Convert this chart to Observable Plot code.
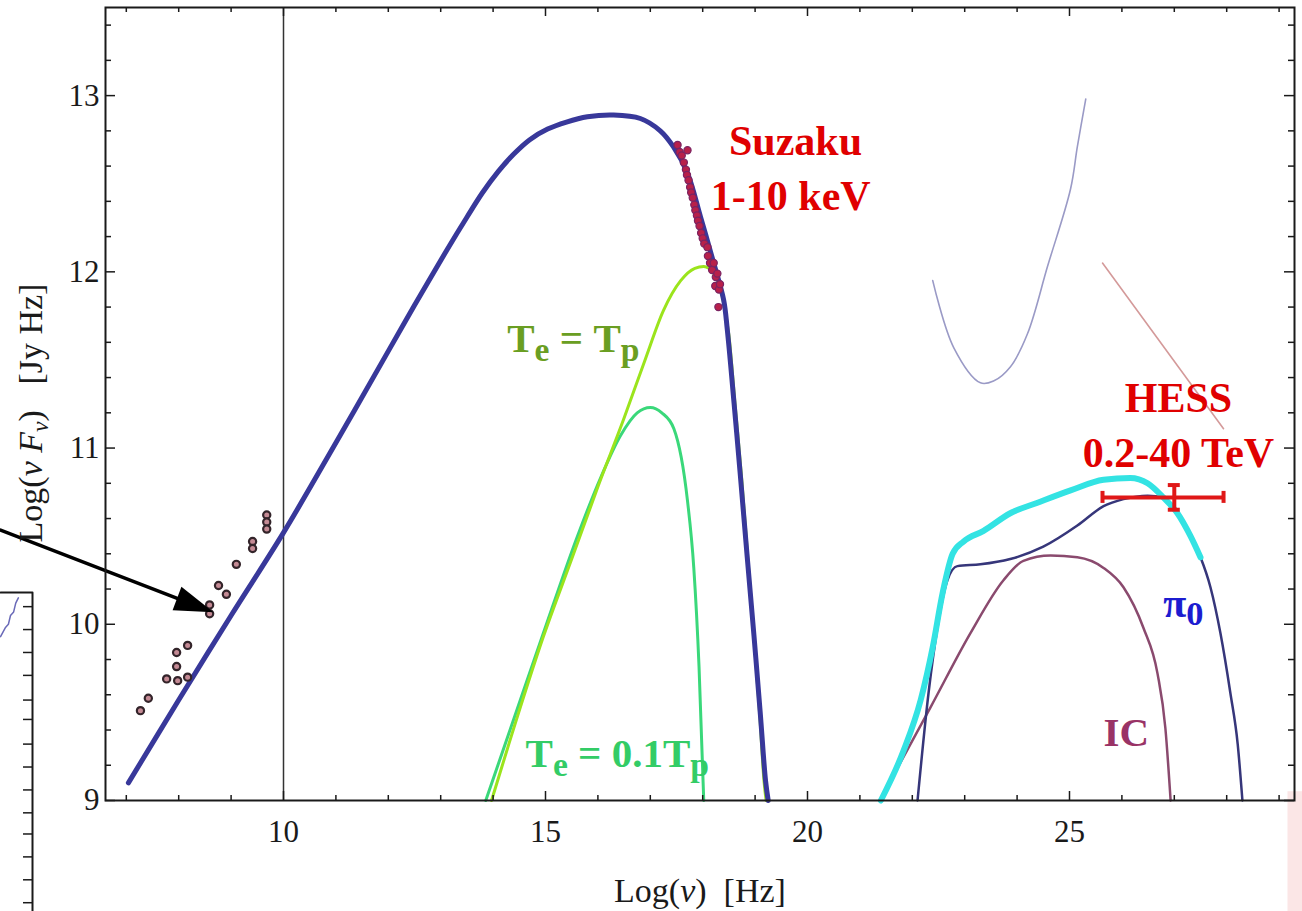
<!DOCTYPE html>
<html>
<head>
<meta charset="utf-8">
<script src="https://cdn.jsdelivr.net/npm/d3@7"></script>
<script src="https://cdn.jsdelivr.net/npm/@observablehq/plot@0.6"></script>
<style>
html, body { margin: 0; padding: 0; background: #fff; }
#chart svg { display: block; }
</style>
</head>
<body>
<div id="chart"></div>
<script>
// ---------------- data (log10 values) ----------------
const xMajorTicks = [10, 15, 20, 25];
const xMinorTicks = [7, 8, 9, 11, 12, 13, 14, 16, 17, 18, 19, 21, 22, 23, 24, 26, 27, 28, 29];
const yMajorTicks = [9, 10, 11, 12, 13];
const yMinorTicks = [9.2, 9.4, 9.6, 9.8, 10.2, 10.4, 10.6, 10.8, 11.2, 11.4, 11.6, 11.8, 12.2, 12.4, 12.6, 12.8, 13.2, 13.4];

// synchrotron model (thick navy)
const synchrotron = [[7.04, 9.10], [8.0, 9.57], [9.0, 10.05], [10.0, 10.52], [11.0, 11.03], [12.0, 11.55], [12.5, 11.81], [13.13, 12.13], [13.5, 12.31], [13.8, 12.45], [14.1, 12.57], [14.4, 12.67], [14.7, 12.75], [15.04, 12.81], [15.4, 12.85], [15.8, 12.88], [16.30, 12.89], [16.81, 12.87], [17.19, 12.80], [17.44, 12.71], [17.71, 12.56], [17.96, 12.31], [18.21, 12.05], [18.40, 11.84], [18.47, 11.67], [18.60, 11.25], [18.72, 10.84], [18.85, 10.38], [18.98, 9.93], [19.10, 9.49], [19.20, 9.11], [19.25, 9.0]];
// thermal models
const thermalTeTp = [[13.97, 9.0], [14.30, 9.32], [14.96, 9.93], [15.50, 10.37], [16.00, 10.78], [16.50, 11.17], [16.90, 11.50], [17.25, 11.78], [17.58, 11.95], [17.85, 12.02], [18.02, 12.03], [18.21, 11.99], [18.36, 11.88], [18.50, 11.64], [18.62, 11.24], [18.74, 10.84], [18.86, 10.38], [18.98, 9.92], [19.09, 9.48], [19.17, 9.11], [19.21, 9.0]];
const thermalTe01Tp = [[13.86, 9.0], [14.30, 9.38], [14.96, 9.95], [15.61, 10.50], [16.05, 10.83], [16.43, 11.07], [16.75, 11.20], [17.00, 11.23], [17.22, 11.20], [17.45, 11.11], [17.71, 10.70], [17.83, 10.32], [17.93, 9.76], [18.02, 9.0]];
// gamma-ray models
const totalGamma = [[21.40, 9.0], [21.83, 9.28], [22.16, 9.57], [22.39, 9.87], [22.58, 10.18], [22.77, 10.40], [22.98, 10.47], [23.36, 10.53], [23.87, 10.63], [24.39, 10.69], [25.02, 10.76], [25.65, 10.82], [26.16, 10.83], [26.49, 10.80], [26.79, 10.72], [27.06, 10.63], [27.31, 10.50], [27.50, 10.38]];
const pionDecay = [[22.10, 9.0], [22.31, 9.61], [22.48, 9.98], [22.67, 10.25], [22.86, 10.33], [23.30, 10.34], [23.87, 10.37], [24.50, 10.44], [25.15, 10.56], [25.65, 10.67], [26.03, 10.71], [26.49, 10.73], [26.79, 10.72], [27.06, 10.63], [27.31, 10.50], [27.50, 10.38], [27.69, 10.21], [27.88, 9.95], [28.07, 9.61], [28.21, 9.32], [28.30, 9.0]];
const inverseCompton = [[21.38, 9.0], [22.35, 9.53], [23.11, 9.95], [23.74, 10.25], [24.12, 10.36], [24.64, 10.39], [25.15, 10.38], [25.65, 10.32], [26.03, 10.21], [26.41, 9.98], [26.68, 9.72], [26.83, 9.41], [26.93, 9.0]];
// faint upper curves
const faintBlue = [[22.39, 11.95], [22.79, 11.57], [23.30, 11.37], [23.55, 11.38], [23.87, 11.46], [24.20, 11.65], [24.58, 12.03], [25.02, 12.47], [25.15, 12.71], [25.31, 12.98]];
const faintRed = [[25.63, 12.05], [27.94, 11.11]];
// observations
const radioPoints = [[7.27, 9.51], [7.42, 9.58], [7.77, 9.69], [7.96, 9.84], [7.96, 9.76], [7.98, 9.68], [8.17, 9.88], [8.17, 9.70], [8.59, 10.11], [8.59, 10.06], [8.76, 10.22], [8.91, 10.17], [9.10, 10.34], [9.41, 10.47], [9.41, 10.43], [9.68, 10.62], [9.68, 10.58], [9.68, 10.54]];
const suzakuPoints = [[17.52, 12.72], [17.56, 12.68], [17.60, 12.66], [17.71, 12.69], [17.64, 12.62], [17.68, 12.58], [17.70, 12.55], [17.73, 12.52], [17.76, 12.48], [17.78, 12.45], [17.81, 12.42], [17.84, 12.38], [17.86, 12.35], [17.89, 12.32], [17.91, 12.29], [17.94, 12.26], [17.97, 12.22], [18.00, 12.19], [18.03, 12.16], [18.09, 12.14], [18.10, 12.09], [18.14, 12.05], [18.18, 12.01], [18.21, 12.05], [18.25, 11.97], [18.28, 11.99], [18.24, 11.92], [18.31, 11.90], [18.33, 11.93], [18.30, 11.80]];
const hessPoint = [{x: 27.0, xLo: 25.63, xHi: 27.94, y: 10.72, yLo: 10.65, yHi: 10.79}];

// annotations (data coordinates)
const redLabels = [
  {text: "Suzaku", x: 19.77, y: 12.665},
  {text: "1-10 keV", x: 19.68, y: 12.35},
  {text: "HESS", x: 27.08, y: 11.205},
  {text: "0.2-40 TeV", x: 27.08, y: 10.89}
];
const labelTeTp = "Te = Tp";
const labelTe01 = "Te = 0.1Tp";
const labelPi = "π0";
const labelIC = "IC";
const xTitle = "Log(ν)  [Hz]";
const yTitle = "Log(ν Fν)  [Jy Hz]";
const arrowLine = [[4.60, 10.534], [7.96, 10.148]];
const arrowTip = [[8.664, 10.068]];
// fragment of the neighbouring panel, cut at the left edge
const sidePanelFrame = [[4.60, 10.18], [5.21, 10.18], [5.21, 8.36]];
const sidePanelTicks = [10.10, 9.97, 9.84, 9.71, 9.57, 9.46, 9.32, 9.19, 9.06, 8.93, 8.81, 8.68, 8.55, 8.42];
const sidePanelCurve = [[4.60, 9.93], [4.69, 9.98], [4.75, 10.00], [4.79, 10.05], [4.85, 10.07], [4.89, 10.12], [4.94, 10.15]];
const edgeTint = [{x1: 29.17, x2: 29.46, y1: 8.36, y2: 9.05}];

// ---------------- layout ----------------
const W = 1302, H = 911;
const M = {top: 7, right: 8, bottom: 111, left: 105};
const xDomain = [6.603, 29.294];
const yDomain = [9, 13.5];
const kx = (W - M.left - M.right) / (xDomain[1] - xDomain[0]);
const ky = (H - M.top - M.bottom) / (yDomain[1] - yDomain[0]);
const serif = "'Liberation Serif', 'Times New Roman', serif";
const ink = "#1a1a1a";

const X = (d) => d[0], Y = (d) => d[1];
const curveLine = (data, o) => Plot.line(data, {x: X, y: Y, curve: "monotone-x", strokeLinecap: "round", strokeLinejoin: "round", ...o});

const arrowHead = {
  draw(ctx) { ctx.moveTo(0, 0); ctx.lineTo(-39, -12.5); ctx.lineTo(-39, 12.5); ctx.closePath(); }
};

const chart = Plot.plot({
  width: W, height: H,
  marginTop: M.top, marginRight: M.right, marginBottom: M.bottom, marginLeft: M.left,
  x: {domain: xDomain},
  y: {domain: yDomain},
  axis: null,
  style: {fontFamily: serif, background: "#fff", color: ink},
  marks: [
    // faint tint at the lower right edge of the scan
    Plot.rect(edgeTint, {x1: "x1", x2: "x2", y1: "y1", y2: "y2", fill: "#fbe3e3", fillOpacity: 0.9}),

    // neighbouring panel fragment
    Plot.line(sidePanelFrame, {x: X, y: Y, stroke: ink, strokeWidth: 2}),
    Plot.ruleY(sidePanelTicks, {y: (d) => d, x1: 5.21 - 9 / kx, x2: 5.21, stroke: ink, strokeWidth: 1.5}),
    Plot.line(sidePanelCurve, {x: X, y: Y, stroke: "#6a6ab8", strokeWidth: 1.5}),

    // reference line at 10
    Plot.ruleX([10], {stroke: "#333", strokeWidth: 1.5}),

    // faint curves
    Plot.line(faintBlue, {x: X, y: Y, stroke: "#9a9ac6", strokeWidth: 1.6, curve: "catmull-rom"}),
    Plot.line(faintRed, {x: X, y: Y, stroke: "#d49a9a", strokeWidth: 1.6}),

    // thermal
    curveLine(thermalTe01Tp, {stroke: "#3ad87a", strokeWidth: 3}),
    curveLine(thermalTeTp, {stroke: "#9be41c", strokeWidth: 3}),

    // gamma
    curveLine(inverseCompton, {stroke: "#8a4a6e", strokeWidth: 2.5}),
    curveLine(pionDecay, {stroke: "#36367a", strokeWidth: 2.5}),
    curveLine(totalGamma, {stroke: "#33e3e3", strokeWidth: 6}),

    // synchrotron
    curveLine(synchrotron, {stroke: "#38389a", strokeWidth: 5, curve: "catmull-rom"}),

    // observations
    Plot.dot(suzakuPoints, {x: X, y: Y, r: 3.6, fill: "#b8204a", stroke: "#7a2462", strokeWidth: 1.2}),
    Plot.dot(radioPoints, {x: X, y: Y, r: 3.6, fill: "#c48a94", stroke: "#33242a", strokeWidth: 2.2}),

    // HESS error bar
    Plot.ruleY(hessPoint, {y: "y", x1: "xLo", x2: "xHi", stroke: "#e01818", strokeWidth: 4}),
    Plot.ruleX(hessPoint, {x: "x", y1: "yLo", y2: "yHi", stroke: "#e01818", strokeWidth: 4}),
    Plot.ruleX(hessPoint, {x: "xLo", y1: (d) => d.y - 6 / ky, y2: (d) => d.y + 6 / ky, stroke: "#e01818", strokeWidth: 4}),
    Plot.ruleX(hessPoint, {x: "xHi", y1: (d) => d.y - 6 / ky, y2: (d) => d.y + 6 / ky, stroke: "#e01818", strokeWidth: 4}),
    Plot.ruleY(hessPoint, {y: "yLo", x1: (d) => d.x - 6 / kx, x2: (d) => d.x + 6 / kx, stroke: "#e01818", strokeWidth: 4}),
    Plot.ruleY(hessPoint, {y: "yHi", x1: (d) => d.x - 6 / kx, x2: (d) => d.x + 6 / kx, stroke: "#e01818", strokeWidth: 4}),

    // arrow
    Plot.line(arrowLine, {x: X, y: Y, stroke: "#000", strokeWidth: 3.5}),
    Plot.dot(arrowTip, {x: X, y: Y, symbol: arrowHead, rotate: 20.7, fill: "#000", stroke: "none", r: 10}),

    // frame and ticks (inward)
    Plot.frame({stroke: ink, strokeWidth: 2}),
    Plot.ruleX(xMinorTicks, {x: (d) => d, y1: yDomain[0], y2: yDomain[0] + 5 / ky, stroke: ink, strokeWidth: 1.5}),
    Plot.ruleX(xMajorTicks, {x: (d) => d, y1: yDomain[0], y2: yDomain[0] + 9 / ky, stroke: ink, strokeWidth: 1.5}),
    Plot.ruleX(xMinorTicks, {x: (d) => d, y1: yDomain[1], y2: yDomain[1] - 5 / ky, stroke: ink, strokeWidth: 1.5}),
    Plot.ruleX(xMajorTicks, {x: (d) => d, y1: yDomain[1], y2: yDomain[1] - 9 / ky, stroke: ink, strokeWidth: 1.5}),
    Plot.ruleY(yMinorTicks, {y: (d) => d, x1: xDomain[0], x2: xDomain[0] + 6 / kx, stroke: ink, strokeWidth: 1.5}),
    Plot.ruleY(yMajorTicks, {y: (d) => d, x1: xDomain[0], x2: xDomain[0] + 10 / kx, stroke: ink, strokeWidth: 1.5}),
    Plot.ruleY(yMinorTicks, {y: (d) => d, x1: xDomain[1], x2: xDomain[1] - 6 / kx, stroke: ink, strokeWidth: 1.5}),
    Plot.ruleY(yMajorTicks, {y: (d) => d, x1: xDomain[1], x2: xDomain[1] - 10 / kx, stroke: ink, strokeWidth: 1.5}),

    // tick labels
    Plot.text(xMajorTicks, {x: (d) => d, y: yDomain[0], text: (d) => String(d), dy: 19, lineAnchor: "top", fontSize: 31, fill: ink}),
    Plot.text(yMajorTicks, {x: xDomain[0], y: (d) => d, text: (d) => String(d), dx: -6, textAnchor: "end", fontSize: 31, fill: ink}),

    // axis titles
    Plot.text([xTitle], {frameAnchor: "bottom", text: (d) => d, textAnchor: "middle", dy: 101, lineAnchor: "bottom", fontSize: 34, fill: ink}),
    Plot.text([yTitle], {frameAnchor: "left", text: (d) => d, textAnchor: "middle", rotate: -90, dx: -64, dy: 9, lineAnchor: "bottom", fontSize: 34, fill: ink}),

    // annotations
    Plot.text(redLabels, {x: "x", y: "y", text: "text", lineAnchor: "bottom", fontSize: 42, fontWeight: "bold", fill: "#e00000"}),
    Plot.text([labelTeTp], {x: 14.27, y: 11.545, text: (d) => d, textAnchor: "start", lineAnchor: "bottom", fontSize: 41, fontWeight: "bold", fill: "#6a9e22"}),
    Plot.text([labelTe01], {x: 14.62, y: 9.19, text: (d) => d, textAnchor: "start", lineAnchor: "bottom", fontSize: 41, fontWeight: "bold", fill: "#33cc66"}),
    Plot.text([labelPi], {x: 26.79, y: 10.04, text: (d) => d, textAnchor: "start", lineAnchor: "bottom", fontSize: 42, fontWeight: "bold", fill: "#1c1cd0"}),
    Plot.text([labelIC], {x: 25.65, y: 9.31, text: (d) => d, textAnchor: "start", lineAnchor: "bottom", fontSize: 41, fontWeight: "bold", fill: "#993366"})
  ]
});

document.getElementById("chart").append(chart);

// rich text: italics and subscripts as tspans
const richSpecs = [
  {key: xTitle, fs: 34, sub: 0.7, shift: 6, segs: [["Log("], ["ν", "i"], [")\u00a0\u00a0[Hz]"]]},
  {key: yTitle, fs: 34, sub: 0.7, shift: 6, segs: [["Log("], ["ν", "i"], ["\u00a0"], ["F", "i"], ["ν", "is"], [")\u00a0\u00a0\u00a0[Jy Hz]"]]},
  {key: labelTeTp, fs: 41, sub: 0.82, shift: 9, segs: [["T"], ["e", "s"], ["\u00a0=\u00a0T"], ["p", "s"]]},
  {key: labelTe01, fs: 41, sub: 0.82, shift: 9, segs: [["T"], ["e", "s"], ["\u00a0=\u00a00.1T"], ["p", "s"]]},
  {key: labelPi, fs: 42, sub: 0.82, shift: 8, segs: [["π"], ["0", "s"]]}
];
const NS = "http://www.w3.org/2000/svg";
chart.querySelectorAll("text").forEach((el) => {
  const spec = richSpecs.find((s) => s.key === el.textContent);
  if (!spec) return;
  el.textContent = "";
  let shifted = false;
  for (const [t, f = ""] of spec.segs) {
    const ts = document.createElementNS(NS, "tspan");
    ts.textContent = t;
    const isSub = f.includes("s");
    if (f.includes("i")) ts.setAttribute("font-style", "italic");
    if (isSub) ts.setAttribute("font-size", spec.fs * spec.sub);
    if (isSub && !shifted) { ts.setAttribute("dy", spec.shift); shifted = true; }
    else if (!isSub && shifted) { ts.setAttribute("dy", -spec.shift); shifted = false; }
    el.appendChild(ts);
  }
});
</script>
</body>
</html>
